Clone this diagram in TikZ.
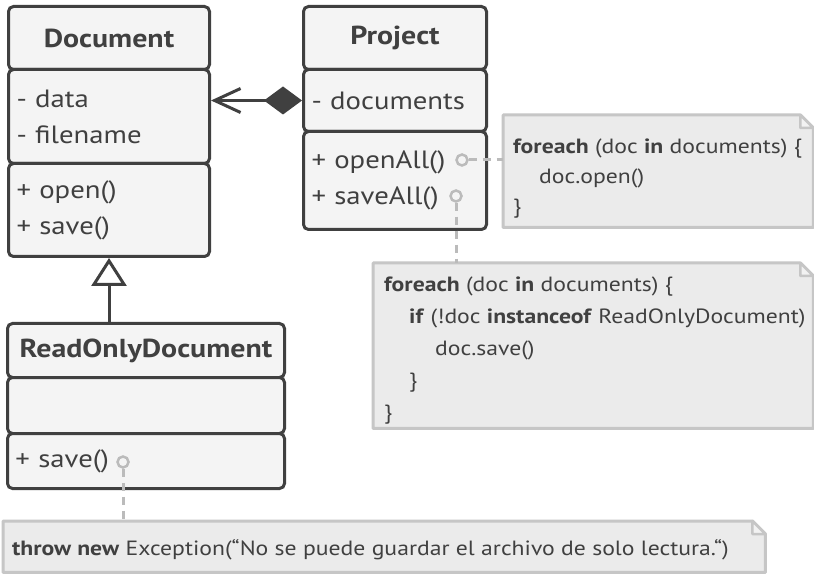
\documentclass[tikz,border=0pt]{standalone}
\usepackage{fontspec}
\setmainfont{PT Sans}[FakeStretch=1.15]
\newfontfamily\notefont{PT Sans}[FakeStretch=1.15]
\usetikzlibrary{arrows.meta,calc}
\definecolor{ink}{HTML}{404040}
\definecolor{boxfill}{HTML}{F4F4F4}
\definecolor{notefill}{HTML}{EBEBEB}
\definecolor{noteline}{HTML}{C6C6C6}
\definecolor{foldfill}{HTML}{F2F2F2}
\definecolor{pin}{HTML}{BBBBBB}
\tikzset{
  comp/.style={draw=ink, line width=3pt, fill=boxfill, rounded corners=5pt,
    inner xsep=8pt, inner ysep=0pt, anchor=north west, text=ink},
  hdr/.style={font=\bfseries\fontsize{26}{30}\selectfont},
  body/.style={font=\fontsize{25}{36}\selectfont, align=left},
  notebox/.style={fill=notefill, draw=none, inner sep=0pt, anchor=north west},
  notetext/.style={inner sep=0pt, anchor=north west, align=left, text=ink},
  pinc/.style={circle, draw=pin, line width=2.5pt, minimum size=11pt, inner sep=0pt},
  pinline/.style={draw=pin, line width=3pt, dash pattern=on 8pt off 6pt},
  assoc/.style={draw=ink, line width=3pt,
    {Diamond[length=38pt,width=28pt,fill=ink]}-{Straight Barb[length=26pt,width=24pt]}},
  inherit/.style={draw=ink, line width=3pt, -{Triangle[open,length=28pt,width=35pt,fill=white]}}
}
\def\drawnote#1{%
  \fill[white] ($(#1.north east)+(-13,0)$) -- (#1.north east) -- ($(#1.north east)+(0,13)$) -- cycle;
  \draw[noteline, line width=3pt, line join=round]
    ($(#1.north east)+(-13,0)$) -- (#1.north west) -- (#1.south west) -- (#1.south east)
    -- ($(#1.north east)+(0,13)$) -- cycle;
  \draw[noteline, line width=2.5pt, fill=foldfill, line join=round]
    ($(#1.north east)+(-13,0)$) -- ($(#1.north east)+(-13,13)$) -- ($(#1.north east)+(0,13)$) -- cycle;
}
\def\firstline{\rule{0pt}{20pt}}
\begin{document}
\begin{tikzpicture}[x=1pt,y=-1pt]
\fill[white] (0,0) rectangle (814,577);
\useasboundingbox (0,0) rectangle (814,577);

% Document
\node[comp, hdr, minimum width=201pt, minimum height=63pt] (dochdr) at (7,5) {Document};
\node[comp, body, text width=185pt, minimum height=94pt] (docatt) at (7,68) {- data\\- filename};
\node[comp, body, text width=185pt, minimum height=93pt] (docmth) at (7,162) {+ open()\\+ save()};

% Project
\node[comp, hdr, minimum width=183pt, minimum height=63pt] (prjhdr) at (302,5) {Project};
\node[comp, body, text width=167pt, minimum height=62pt] (prjatt) at (302,68) {- documents};
\node[comp, body, text width=167pt, minimum height=98pt] (prjmth) at (302,130) {+ openAll()\\+ saveAll()};

% ReadOnlyDocument
\node[comp, hdr, minimum width=277pt, minimum height=54pt] (rohdr) at (6,322) {ReadOnlyDocument};
\node[comp, body, text width=261pt, minimum height=56pt] (roatt) at (6,376) {};
\node[comp, body, text width=261pt, minimum height=55pt] (romth) at (6,432) {+ save()};

% notes
\node[notebox, minimum width=310pt, minimum height=112pt] (n1) at (503,115) {};
\drawnote{n1}
\node[notetext, font=\notefont\fontsize{20.6}{30}\selectfont] (n1t) at (513,133)
  {\firstline\textbf{foreach} (doc \textbf{in} documents) \{\\\hspace*{26pt}doc.open()\\\}};

\node[notebox, minimum width=440pt, minimum height=165pt] (n2) at (373,263) {};
\drawnote{n2}
\node[notetext, font=\notefont\fontsize{20.6}{32}\selectfont] (n2t) at (384,271)
  {\firstline\textbf{foreach} (doc \textbf{in} documents) \{\\
   \hspace*{25pt}\textbf{if} (!doc \textbf{instanceof} ReadOnlyDocument)\\
   \hspace*{51pt}doc.save()\\
   \hspace*{25pt}\}\\
   \}};

\node[notebox, minimum width=762pt, minimum height=51pt] (n3) at (3,521) {};
\drawnote{n3}
\node[notetext, font=\notefont\fontsize{20.6}{30}\selectfont] (n3t) at (12,535)
  {\firstline\textbf{throw new} Exception(“No se puede guardar el archivo de solo lectura.“)};

% pins
\node[pinc] (c1) at (462,160) {};
\node[pinc] (c2) at (456,196) {};
\node[pinc] (c3) at (123,462) {};
\draw[pinline] (c1.east) -- (c1.east -| n1.west);
\draw[pinline] (c2.south) -- (c2.south |- n2.north);
\draw[pinline] (c3.south) -- (c3.south |- n3.north);

% relations
\draw[assoc] (prjatt.west) -- (prjatt.west -| docatt.east);
\draw[inherit] (rohdr.north -| docmth.south) -- (docmth.south);
\end{tikzpicture}
\end{document}
